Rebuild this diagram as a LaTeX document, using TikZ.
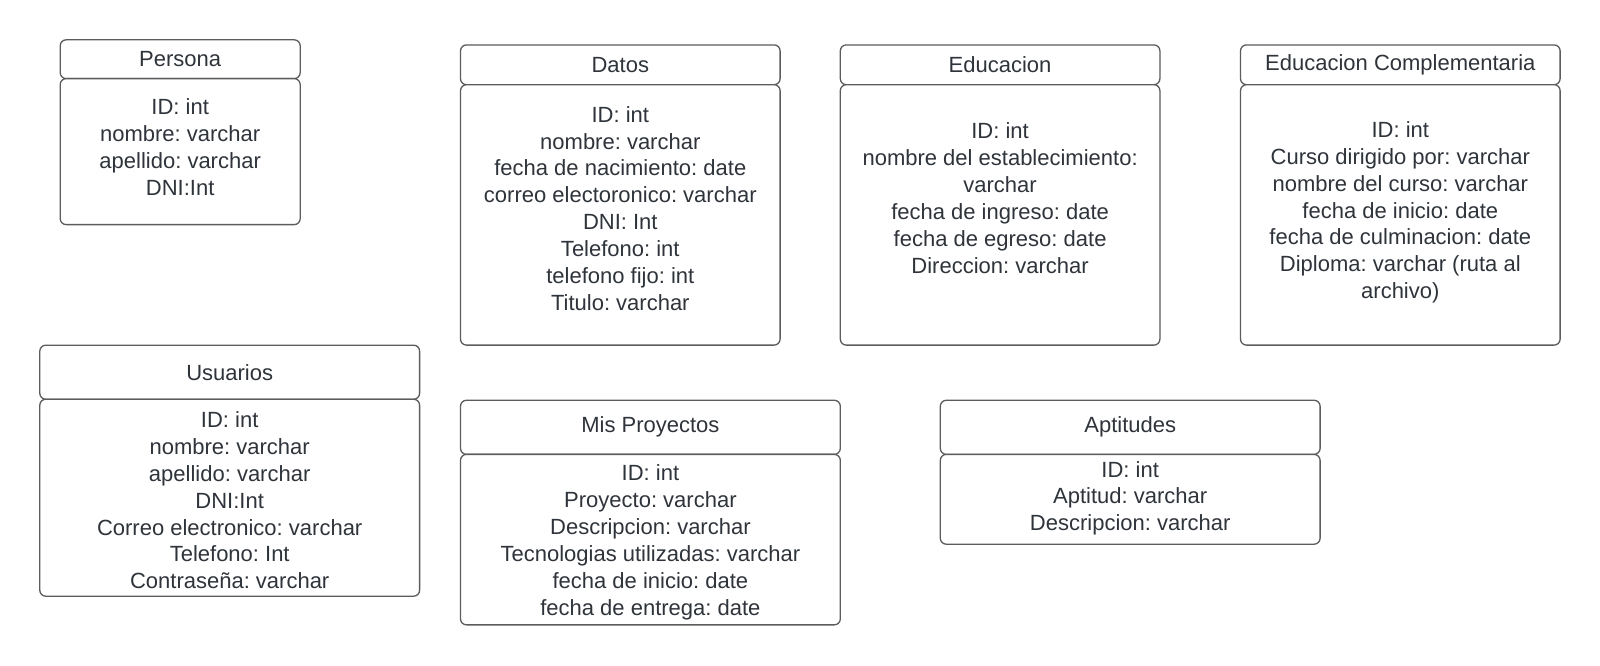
\documentclass[tikz,border=0pt]{standalone}
\usepackage{fontspec}
\setmainfont{Liberation Sans}
\frenchspacing
\definecolor{txt}{HTML}{2F343B}
\definecolor{edge}{HTML}{5C5C5C}
\begin{document}
\begin{tikzpicture}[x=1pt,y=-1pt,
  box/.style={draw=edge, line width=1.3pt, rounded corners=6pt, fill=white, inner sep=0pt},
  txtnode/.style={text=txt, align=center, font=\fontsize{22}{26.85}\selectfont\frenchspacing, inner sep=0pt}]
\useasboundingbox[fill=white] (0,0) rectangle (1600,665);

% Persona
\node[box, txtnode, minimum width=240pt, minimum height=38.8pt] (personaT) at (180.2,59.2) {Persona};
\node[box, minimum width=240pt, minimum height=146pt] (personaB) at (180.2,151.6) {};
\node[txtnode] (personaF) at (180.2,147) {ID: int\\nombre: varchar\\apellido: varchar\\DNI:Int};

% Datos
\node[box, txtnode, minimum width=319.6pt, minimum height=39.8pt] (datosT) at (620.3,64.8) {Datos};
\node[box, minimum width=319.6pt, minimum height=260.4pt] (datosB) at (620.3,214.9) {};
\node[txtnode] (datosF) at (620.3,208.3) {ID: int\\nombre: varchar\\fecha de nacimiento: date\\correo electoronico: varchar\\DNI: Int\\Telefono: int\\telefono fijo: int\\Titulo: varchar};

% Educacion
\node[box, txtnode, minimum width=319.6pt, minimum height=39.8pt] (eduT) at (1000.1,64.8) {Educacion};
\node[box, minimum width=319.6pt, minimum height=260.4pt] (eduB) at (1000.1,214.9) {};
\node[txtnode] (eduF) at (1000.1,198.1) {ID: int\\nombre del establecimiento:\\varchar\\fecha de ingreso: date\\fecha de egreso: date\\Direccion: varchar};

% Educacion Complementaria
\node[box, txtnode, minimum width=319.6pt, minimum height=39.8pt] (ecT) at (1400.3,64.8) {Educacion Complementaria};
\node[box, minimum width=319.6pt, minimum height=260.4pt] (ecB) at (1400.3,214.9) {};
\node[txtnode] (ecF) at (1400.3,212.4) {ID: int\\Curso dirigido por: varchar\\nombre del curso: varchar\\fecha de inicio: date\\fecha de culminacion: date\\Diploma: varchar (ruta al\\archivo)};

% Usuarios
\node[box, txtnode, minimum width=379.8pt, minimum height=54.1pt] (usuT) at (229.7,372.2) {Usuarios};
\node[box, minimum width=379.8pt, minimum height=197pt] (usuB) at (229.7,497.7) {};
\node[txtnode] (usuF) at (229.7,500.3) {ID: int\\nombre: varchar\\apellido: varchar\\DNI:Int\\Correo electronico: varchar\\Telefono: Int\\Contraseña: varchar};

% Mis Proyectos
\node[box, txtnode, minimum width=379.8pt, minimum height=54.1pt] (proyT) at (650.4,427.3) {Mis Proyectos};
\node[box, minimum width=379.8pt, minimum height=170.5pt] (proyB) at (650.4,539.6) {};
\node[txtnode] (proyF) at (650.4,542.2) {ID: int\\Proyecto: varchar\\Descripcion: varchar\\Tecnologias utilizadas: varchar\\fecha de inicio: date\\fecha de entrega: date};

% Aptitudes
\node[box, txtnode, minimum width=379.8pt, minimum height=54.1pt] (aptT) at (1130.2,427.3) {Aptitudes};
\node[box, minimum width=379.8pt, minimum height=89.8pt] (aptB) at (1130.2,499.3) {};
\node[txtnode] (aptF) at (1130.2,498.2) {ID: int\\Aptitud: varchar\\Descripcion: varchar};
\end{tikzpicture}
\end{document}
